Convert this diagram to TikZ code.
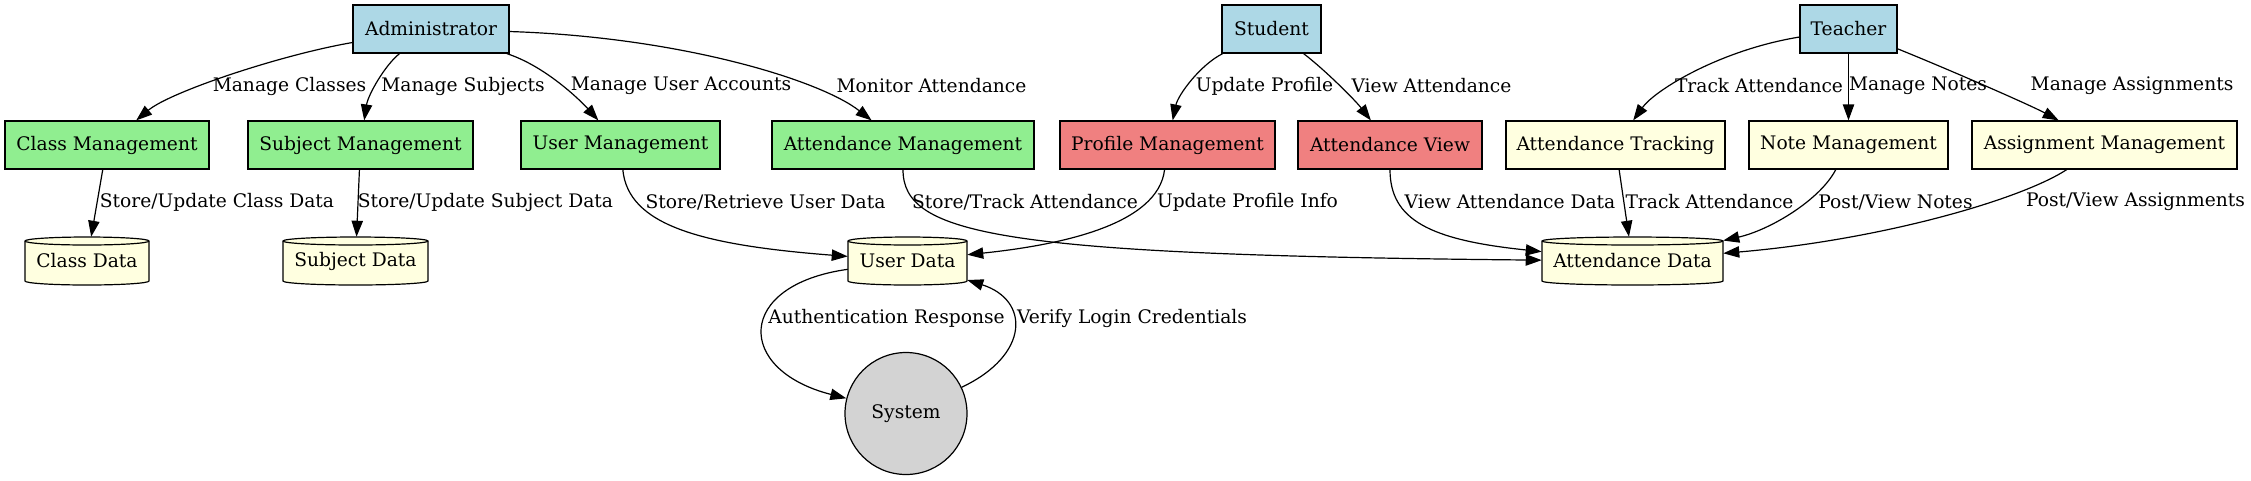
\documentclass[tikz,border=0pt]{standalone}
\usepackage{fontspec}
\setmainfont{DejaVu Serif}
\usetikzlibrary{arrows.meta}
\definecolor{gvblue}{HTML}{ADD8E6}
\definecolor{gvgreen}{HTML}{90EE90}
\definecolor{gvcoral}{HTML}{F08080}
\definecolor{gvyellow}{HTML}{FFFFE0}
\definecolor{gvgray}{HTML}{D3D3D3}
\newcommand{\dbstore}[5]{%
  \path[storeshape] ({#2-#4/2},{#3-20}) -- ({#2-#4/2},{#3+20})
     arc[start angle=180,end angle=360,x radius={#4*0.375pt},y radius=3pt]
     -- ({#2+#4/2},{#3-20})
     arc[start angle=0,end angle=180,x radius={#4*0.375pt},y radius=3pt] -- cycle;
  \draw[line width=0.9pt] ({#2-#4/2},{#3-20}) arc[start angle=180,end angle=360,x radius={#4*0.375pt},y radius=3pt];
  \node[store, wpx=#4] (#1) at (#2,#3) {#5};
}
\begin{document}
\begin{tikzpicture}[x=0.75pt,y=-0.75pt, font=\fontsize{14}{16}\selectfont,
  box/.style={draw, line width=0.9pt, rectangle, minimum height=36pt, inner sep=0pt},
  wpx/.style={minimum width=#1*0.75pt},
  actor/.style={box, fill=gvblue},
  admproc/.style={box, fill=gvgreen},
  stuproc/.style={box, fill=gvcoral},
  teaproc/.style={box, fill=gvyellow},
  store/.style={rectangle, minimum height=36pt, inner sep=0pt},
  storeshape/.style={draw, line width=0.9pt, fill=gvyellow},
  sysnode/.style={circle, draw, line width=0.9pt, fill=gvgray, minimum size=91.5pt, inner sep=0pt},
  flow/.style={draw, line width=0.9pt, -{Triangle[length=12pt,width=8.5pt]}},
  lbl/.style={inner sep=0pt}
]
\useasboundingbox (0,0) rectangle (2251,480);

% actors
\node[actor, wpx=156] (admin) at (431,29) {Administrator};
\node[actor, wpx=99] (student) at (1271.5,29) {Student};
\node[actor, wpx=97] (teacher) at (1848.5,29) {Teacher};

% processes
\node[admproc, wpx=204] (classm) at (107,145) {Class Management};
\node[admproc, wpx=225] (subjm) at (360.5,145) {Subject Management};
\node[admproc, wpx=199] (userm) at (620.5,145) {User Management};
\node[admproc, wpx=262] (attm) at (903,145) {Attendance Management};
\node[stuproc, wpx=215] (profm) at (1167.5,145) {Profile Management};
\node[stuproc, wpx=184] (attview) at (1390,145) {Attendance View};
\node[teaproc, wpx=219] (atttrack) at (1615.5,145) {Attendance Tracking};
\node[teaproc, wpx=199] (notem) at (1848.5,145) {Note Management};
\node[teaproc, wpx=265] (assignm) at (2104.5,145) {Assignment Management};

% data stores
\dbstore{classdata}{87}{261}{124}{Class Data}
\dbstore{subjdata}{355.5}{261}{145}{Subject Data}
\dbstore{userdata}{907.5}{261}{119}{User Data}
\dbstore{attdata}{1632.5}{261}{181}{Attendance Data}

% system
\node[sysnode] (system) at (906,413.5) {System};

% edges
\draw[flow] (admin) .. controls (280,55) and (170,92) .. (classm);
\draw[flow] (admin) .. controls (385,65) and (368,95) .. (subjm);
\draw[flow] (admin) .. controls (545,66) and (580,100) .. (userm);
\draw[flow] (admin) .. controls (680,37) and (820,80) .. (attm);
\draw[flow] (classm) -- (classdata);
\draw[flow] (subjm) -- (subjdata);
\draw[flow] (userm) .. controls (628,225) and (700,245) .. (userdata);
\draw[flow] (attm) .. controls (903,235) and (1000,255) .. (attdata);
\draw[flow] (student) .. controls (1200,65) and (1178,95) .. (profm);
\draw[flow] (student) .. controls (1325,70) and (1355,100) .. (attview);
\draw[flow] (profm) .. controls (1158,225) and (1060,245) .. (userdata);
\draw[flow] (attview) .. controls (1390,220) and (1430,240) .. (attdata);
\draw[flow] (teacher) .. controls (1720,50) and (1655,90) .. (atttrack);
\draw[flow] (teacher) -- (notem);
\draw[flow] (teacher) .. controls (1950,70) and (2030,105) .. (assignm);
\draw[flow] (atttrack) -- (attdata);
\draw[flow] (notem) .. controls (1820,200) and (1770,230) .. (attdata);
\draw[flow] (assignm) .. controls (2020,200) and (1880,240) .. (attdata);
\draw[flow] (userdata) .. controls (735,285) and (735,370) .. (system);
\draw[flow] (system) .. controls (1030,355) and (1030,300) .. (userdata);

% labels
\node[lbl] (l1) at (289.5,86) {Manage Classes};
\node[lbl] (l2) at (463,86) {Manage Subjects};
\node[lbl] (l3) at (681,86) {Manage User Accounts};
\node[lbl] (l4) at (931.5,86) {Monitor Attendance};
\node[lbl] (l5) at (1264.5,86) {Update Profile};
\node[lbl] (l6) at (1431.5,86) {View Attendance};
\node[lbl] (l7) at (1759,86) {Track Attendance};
\node[lbl] (l8) at (1918,86) {Manage Notes};
\node[lbl] (l9) at (2132,86) {Manage Assignments};
\node[lbl] (l10) at (217,202) {Store/Update Class Data};
\node[lbl] (l11) at (485.5,202) {Store/Update Subject Data};
\node[lbl] (l12) at (765.5,202) {Store/Retrieve User Data};
\node[lbl] (l13) at (1025,202) {Store/Track Attendance};
\node[lbl] (l14) at (1247.5,202) {Update Profile Info};
\node[lbl] (l15) at (1510,202) {View Attendance Data};
\node[lbl] (l16) at (1709.5,202) {Track Attendance};
\node[lbl] (l17) at (1895.5,202) {Post/View Notes};
\node[lbl] (l18) at (2135.5,202) {Post/View Assignments};
\node[lbl] (l19) at (886.5,318) {Authentication Response};
\node[lbl] (l20) at (1132,318) {Verify Login Credentials};
\end{tikzpicture}
\end{document}
